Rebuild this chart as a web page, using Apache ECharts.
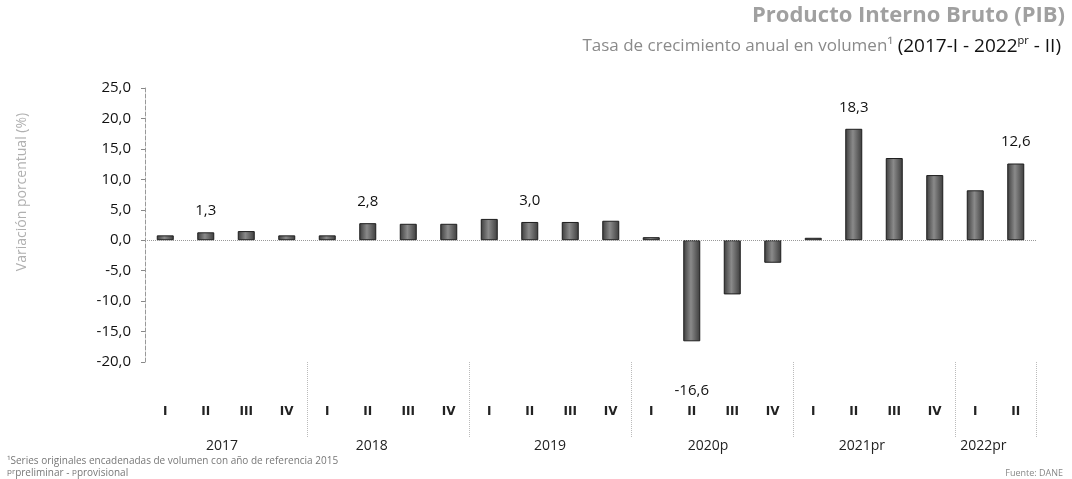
<!DOCTYPE html>
<html lang="es">
<head>
    <meta charset="UTF-8">
    <title>PIB</title>
    <style>
        html, body { margin: 0; padding: 0; background: #fff; }
        #chart { width: 1072px; height: 479px; }
    </style>
    <script src="https://cdn.jsdelivr.net/npm/echarts@6/dist/echarts.min.js"></script>
</head>
<body>
<div id="chart"></div>
<script>
// trimestres y tasas de crecimiento anual (%)
var quarters = ['I', 'II', 'III', 'IV', 'I', 'II', 'III', 'IV', 'I', 'II', 'III', 'IV',
    'I', 'II', 'III', 'IV', 'I', 'II', 'III', 'IV', 'I', 'II'];
var growth = [0.8, 1.3, 1.5, 0.8, 0.8, 2.8, 2.7, 2.7, 3.5, 3.0, 3.0, 3.2,
    0.5, -16.6, -8.9, -3.7, 0.4, 18.3, 13.5, 10.7, 8.2, 12.6];
var labeledIdx = [1, 5, 9, 13, 17, 21];
// años: nombre y posicion (en trimestres) del rotulo
var yearNames = ['2017', '2018', '2019', '2020p', '2021pr', '2022pr'];
var yearLabelPos = [1.9, 5.6, 10.0, 13.9, 17.7, 20.7];
var yearBreaks = [4, 8, 12, 16, 20];
var yMin = -20, yMax = 25, yStep = 5;

function comma(v) {
    return Number(v).toFixed(1).replace('.', ',');
}

var font = 'Open Sans';
var chart = echarts.init(document.getElementById('chart'));

var barData = growth.map(function (v, i) {
    if (labeledIdx.indexOf(i) < 0) return v;
    return {
        value: v,
        label: {
            show: true,
            position: v < 0 ? 'bottom' : 'top',
            distance: v < 0 ? 42 : 14
        }
    };
});

var option = {
    animation: false,
    textStyle: { fontFamily: font },
    title: [
        {
            text: 'Producto Interno Bruto (PIB)',
            right: 2, top: 0,
            textStyle: { fontSize: 22, fontWeight: 'bold', color: '#a0a0a0', fontFamily: font }
        },
        {
            text: 'Tasa de crecimiento anual en volumen¹ {b|(2017-I - 2022}{s|pr}{b| - II)}',
            right: 6, top: 30,
            textStyle: {
                fontSize: 17, fontWeight: 'normal', color: '#8a8a8a', fontFamily: font,
                rich: {
                    b: { fontSize: 19, color: '#111', fontFamily: font },
                    s: { fontSize: 11, color: '#111', fontFamily: font, verticalAlign: 'top', padding: [0, 0, 12, 0] }
                }
            }
        },
        {
            text: '¹Series originales encadenadas de volumen con año de referencia 2015',
            left: 2, top: 451,
            textStyle: { fontSize: 10, fontWeight: 'normal', color: '#777', fontFamily: font }
        },
        {
            text: '{s|pr}preliminar - {s|p}provisional',
            left: 2, top: 463,
            textStyle: {
                fontSize: 10, fontWeight: 'normal', color: '#777', fontFamily: font,
                rich: { s: { fontSize: 8, color: '#777', verticalAlign: 'top' } }
            }
        },
        {
            text: 'Fuente: DANE',
            right: 4, top: 464,
            textStyle: { fontSize: 9, fontWeight: 'normal', color: '#888', fontFamily: font }
        }
    ],
    graphic: [
        {
            type: 'text',
            x: 22, y: 192,
            rotation: Math.PI / 2,
            style: {
                text: 'Variación porcentual (%)',
                fill: '#b0b0b0',
                font: '14px "Open Sans"',
                align: 'center',
                verticalAlign: 'middle'
            }
        }
    ],
    grid: { left: 145, right: 36, top: 88, bottom: 117 },
    xAxis: [
        {
            type: 'category',
            data: quarters,
            position: 'bottom',
            axisLine: { show: false, onZero: false },
            axisTick: {
                show: true,
                alignWithLabel: false,
                interval: function (i) { return yearBreaks.indexOf(i) >= 0; },
                length: 76,
                lineStyle: { type: 'dotted', color: '#bbb' }
            },
            axisLabel: {
                interval: 0, margin: 44,
                fontSize: 12, fontWeight: 'bold', color: '#222', fontFamily: 'DejaVu Sans'
            }
        },
        {
            type: 'value',
            min: 0, max: quarters.length, interval: 0.1,
            position: 'bottom',
            axisLine: { show: false, onZero: false },
            axisTick: { show: false },
            splitLine: { show: false },
            axisLabel: {
                margin: 77,
                fontSize: 14, color: '#222', fontFamily: font,
                formatter: function (v) {
                    var k = Math.round(v * 10);
                    for (var j = 0; j < yearLabelPos.length; j++) {
                        if (Math.round(yearLabelPos[j] * 10) === k) return yearNames[j];
                    }
                    return '';
                }
            }
        }
    ],
    yAxis: {
        type: 'value',
        min: yMin, max: yMax, interval: yStep,
        axisLine: { show: true, lineStyle: { type: 'dashed', color: '#999' } },
        axisTick: { show: true, length: 4, lineStyle: { color: '#888' } },
        splitLine: { show: false },
        axisLabel: {
            margin: 14, fontSize: 15, color: '#111', fontFamily: font,
            formatter: comma
        }
    },
    series: [
        {
            type: 'bar',
            xAxisIndex: 0,
            data: barData,
            barWidth: 17,
            itemStyle: {
                color: {
                    type: 'linear', x: 0, y: 0, x2: 1, y2: 0,
                    colorStops: [
                        { offset: 0, color: '#3c3c3c' },
                        { offset: 0.45, color: '#8a8a8a' },
                        { offset: 1, color: '#3c3c3c' }
                    ]
                },
                borderColor: '#1e1e1e',
                borderWidth: 1
            },
            label: {
                fontSize: 15, color: '#111', fontFamily: font,
                formatter: function (p) { return comma(p.value); }
            },
            markLine: {
                silent: true,
                symbol: 'none',
                label: { show: false },
                lineStyle: { type: 'dotted', color: '#999', width: 1 },
                data: [{ yAxis: 0 }]
            }
        }
    ]
};

chart.setOption(option);
</script>
</body>
</html>
